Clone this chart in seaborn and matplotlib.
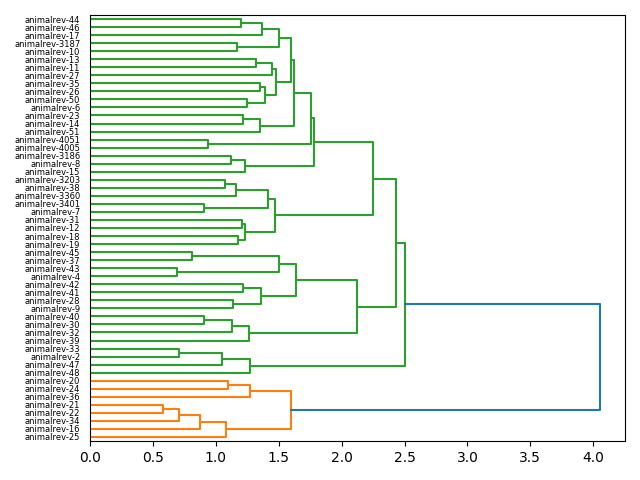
import seaborn as sns
import matplotlib
matplotlib.use("Agg")
import matplotlib.pyplot as plt
import pandas as pd

# leaf labels, top to bottom as they appear
leaves = ["44", "46", "17", "3187", "10", "13", "11", "27", "35", "26", "50", "6",
          "23", "14", "51", "4051", "4005", "3186", "8", "15", "3203", "38", "3360",
          "3401", "7", "31", "12", "18", "19", "45", "37", "43", "4", "42", "41", "28",
          "9", "40", "30", "32", "39", "33", "2", "47", "48", "20", "24", "36", "21",
          "22", "34", "16", "25"]

# merges: link i creates node "m<i>" from link_left[i] and link_right[i] at link_height[i]
link_left = ["44", "m0", "3187", "m1", "13", "m4", "35", "50", "m6", "m5",
             "m3", "23", "m11", "m10", "4051", "m13", "3186", "m16", "m15", "3203",
             "m19", "3401", "m20", "31", "18", "m23", "m22", "m18", "45", "43",
             "m28", "42", "28", "m31", "m30", "40", "m35", "m36", "m34", "m27",
             "33", "m40", "m41", "m39", "20", "m44", "21", "m46", "m47", "m48",
             "m45", "m43"]
link_right = ["46", "17", "10", "m2", "11", "27", "26", "6", "m7", "m8",
              "m9", "14", "51", "m12", "4005", "m14", "8", "15", "m17", "38",
              "3360", "7", "m21", "12", "19", "m24", "m25", "m26", "37", "4",
              "m29", "41", "9", "m32", "m33", "30", "32", "39", "m37", "m38",
              "2", "47", "48", "m42", "24", "36", "22", "34", "16", "25",
              "m49", "m50"]
link_height = [1.20, 1.37, 1.17, 1.50, 1.32, 1.45, 1.35, 1.25, 1.39, 1.48,
               1.60, 1.22, 1.35, 1.62, 0.94, 1.76, 1.12, 1.23, 1.78, 1.07,
               1.16, 0.905, 1.415, 1.21, 1.18, 1.235, 1.47, 2.25, 0.81, 0.69,
               1.50, 1.217, 1.14, 1.357, 1.64, 0.905, 1.127, 1.26, 2.12, 2.43,
               0.706, 1.048, 1.27, 2.50, 1.10, 1.275, 0.577, 0.706, 0.878, 1.08,
               1.60, 4.05]

# colour of each of the two top clusters, and of the root link
cluster_colors = {"m43": "#2ca02c", "m50": "#ff7f0e"}
root_color = "#1f77b4"

n = len(leaves)
pos = {lab: 10 * (n - 1 - i) + 5 for i, lab in enumerate(leaves)}
hgt = {lab: 0.0 for lab in leaves}
children = {}
for i, (l, r, h) in enumerate(zip(link_left, link_right, link_height)):
    name = "m%d" % i
    children[name] = (l, r)
    pos[name] = (pos[l] + pos[r]) / 2
    hgt[name] = h

# propagate colours down from the two root children
color = {}
def paint(node, c):
    color[node] = c
    if node in children:
        for ch in children[node]:
            paint(ch, c)

for top, c in cluster_colors.items():
    paint(top, c)
color["m%d" % (len(link_height) - 1)] = root_color

rows = []
for i, (l, r, h) in enumerate(zip(link_left, link_right, link_height)):
    name = "m%d" % i
    for x, y in [(hgt[l], pos[l]), (h, pos[l]), (h, pos[r]), (hgt[r], pos[r])]:
        rows.append({"link": i, "x": x, "y": y, "color": color[name]})

df = pd.DataFrame(rows)

fig, ax = plt.subplots(figsize=(6.4, 4.8), dpi=100)
sns.lineplot(data=df, x="x", y="y", units="link", estimator=None, sort=False,
             hue="color", palette={c: c for c in df["color"].unique()},
             legend=False, linewidth=1.5, ax=ax)

ax.set_xlim(0, 4.05 * 1.05)
ax.set_ylim(0, 10 * n)
ax.set_yticks([pos[lab] for lab in leaves])
ax.set_yticklabels(["animalrev-" + lab for lab in leaves], fontsize=6)
for t in ax.get_yticklines():
    t.set_visible(False)
ax.set_xlabel("")
ax.set_ylabel("")

fig.subplots_adjust(left=90 / 640, right=625 / 640, top=1 - 15 / 480, bottom=1 - 441 / 480)
fig.savefig("out.png")
